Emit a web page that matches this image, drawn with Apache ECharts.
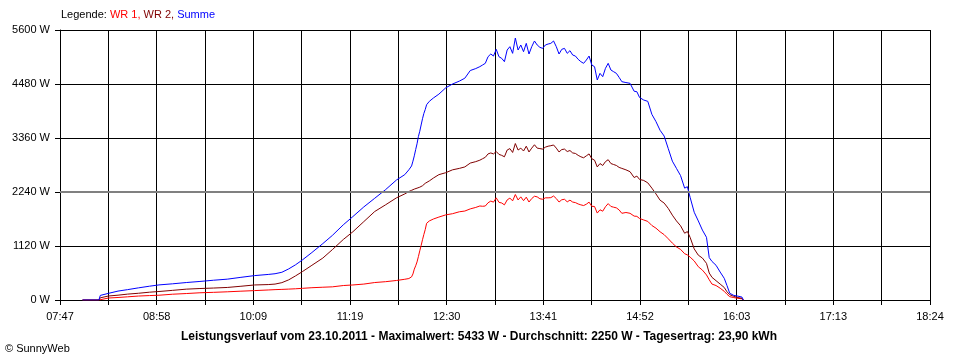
<!DOCTYPE html>
<html>
<head>
<meta charset="utf-8">
<script src="https://cdn.jsdelivr.net/npm/echarts@6/dist/echarts.min.js"></script>
<style>
html,body{margin:0;padding:0;background:#fff;}
#chart{width:960px;height:360px;}
</style>
</head>
<body>
<div id="chart"></div>
<script>
// ---- data ----
var times = ['08:04','08:16','08:17','08:23','08:30','08:37','08:45','08:53','09:00',
'09:10','09:20','09:30','09:40','09:50','10:00','10:10','10:20','10:25','10:30',
'10:35','10:40','10:45','10:52','11:00','11:07','11:15','11:22','11:30','11:38',
'11:46','11:54','12:00','12:03','12:05','12:06','12:07','12:08','12:09','12:10',
'12:11','12:12','12:13','12:14','12:15','12:16','12:18','12:21','12:25','12:30',
'12:35','12:40','12:44','12:48','12:52','12:55',
'12:57','12:59','13:01','13:03','13:05','13:07','13:09','13:11','13:13','13:15',
'13:17','13:19','13:21','13:23','13:25','13:27','13:29','13:31','13:33','13:35',
'13:37','13:39','13:41','13:43','13:45','13:47','13:49','13:51','13:53','13:55',
'13:57','13:59','14:01','14:03','14:05','14:07','14:09','14:11','14:13','14:15',
'14:17','14:19','14:21','14:23','14:25','14:27','14:29','14:31','14:33','14:35',
'14:37','14:39',
'14:42','14:45','14:48','14:50','14:52','14:55','14:58','15:01','15:04','15:07',
'15:10','15:13','15:16','15:19','15:22','15:25','15:27','15:29','15:32','15:35',
'15:38','15:41','15:43','15:45','15:48','15:51','15:54','15:56','15:58','16:01',
'16:04','16:07','16:08'];

var summe = [0,0,95,138,185,215,252,286,313,
336,362,385,410,432,470,506,530,545,575,
645,730,830,985,1170,1340,1560,1730,1930,2110,
2290,2490,2600,2700,2780,2880,2990,3120,3240,3390,
3500,3630,3760,3870,3950,4050,4120,4190,4270,4400,
4480,4540,4600,4760,4800,4840,
4874,4909,5046,5102,5060,5199,5046,5012,4943,5185,
5254,5116,5433,5185,5289,5150,5323,5102,5254,5372,
5289,5240,5219,5289,5309,5323,5372,5254,5102,5199,
5219,5116,5171,5081,5060,4992,4943,4909,4977,5060,
4874,4839,4563,4701,4632,4805,4909,4770,4735,4701,
4618,4528,
4510,4494,4330,4320,4200,4148,4120,3850,3700,3520,
3400,3140,2880,2730,2580,2320,2350,2130,1820,1640,
1450,1300,880,800,720,580,450,300,140,95,
80,60,0];

var wr2 = [0,0,45,83,100,122,140,162,176,
200,225,238,248,260,285,312,320,330,360,
418,500,588,720,870,1045,1255,1415,1625,1835,
1975,2120,2200,2250,2275,2290,2300,2310,2320,2330,
2340,2355,2370,2385,2420,2440,2470,2530,2600,2640,
2700,2730,2760,2840,2870,2900,
2930,2960,3030,3050,3030,3080,3020,3000,2970,3110,
3140,3060,3245,3110,3150,3090,3190,3070,3150,3220,
3150,3140,3130,3170,3190,3200,3215,3150,3070,3120,
3130,3080,3100,3050,3040,3000,2970,2950,2990,3030,
2930,2900,2760,2830,2790,2870,2910,2830,2810,2790,
2750,2730,
2700,2661,2540,2570,2500,2480,2430,2320,2200,2070,
2010,1900,1760,1640,1540,1385,1420,1300,1060,930,
870,760,560,470,400,330,260,170,110,75,
50,35,0];

var wr1 = [0,0,25,41,52,66,82,92,99,
120,134,150,159,170,183,195,208,215,220,
226,233,242,255,265,273,300,312,330,362,
380,405,430,445,480,540,640,710,790,900,
1020,1130,1250,1360,1460,1590,1640,1680,1720,1765,
1790,1830,1845,1890,1920,1950,
1944,1949,2016,2052,2030,2119,2026,2012,1973,2075,
2114,2056,2188,2075,2139,2060,2133,2032,2104,2152,
2139,2100,2089,2119,2119,2123,2157,2104,2032,2079,
2089,2036,2071,2031,2020,1992,1973,1959,1987,2030,
1944,1939,1803,1871,1842,1935,1999,1940,1925,1911,
1868,1798,
1815,1798,1740,1735,1690,1660,1630,1545,1490,1415,
1355,1270,1180,1100,1050,960,935,890,810,690,
620,520,420,330,300,245,180,120,69,50,
35,25,0];

var tickLabels = ['07:47','08:58','10:09','11:19','12:30','13:41','14:52','16:03','17:13','18:24'];
var yTicks = [0,1120,2240,3360,4480,5600];
var average = 2250;
var titleText = 'Leistungsverlauf vom 23.10.2011 - Maximalwert: 5433 W - Durchschnitt: 2250 W - Tagesertrag: 23,90 kWh';

// ---- axis setup ----
var startMin = 7*60 + 47.5;   // axis origin in minutes
var step = 35.4;              // minutes per grid column
var nSteps = 18;

function toOffset(t){
  var p = t.split(':');
  return (+p[0])*60 + (+p[1]) - startMin;
}
function pairs(vals){
  return times.map(function(t,i){ return [toOffset(t), vals[i]]; });
}

var FONT = "'Liberation Sans', Arial, sans-serif";
var chart = echarts.init(document.getElementById('chart'), null, {renderer:'canvas'});
chart.setOption({
  animation:false,
  backgroundColor:'#ffffff',
  grid:{left:60,right:30,top:30,bottom:60,containLabel:false},
  xAxis:{
    type:'value', min:0, max:step*nSteps, interval:step,
    axisLine:{show:true,lineStyle:{color:'#000',width:1}},
    axisTick:{show:true,length:5,lineStyle:{color:'#000',width:1}},
    splitLine:{show:true,lineStyle:{color:'#000',width:1}},
    axisLabel:{
      show:true,color:'#000',fontFamily:FONT,fontSize:11,margin:11,
      showMinLabel:true,showMaxLabel:true,
      formatter:function(v){
        var i = Math.round(v/step);
        return (i%2===0) ? (tickLabels[i/2]||'') : '';
      }
    }
  },
  yAxis:{
    type:'value', min:yTicks[0], max:yTicks[yTicks.length-1], interval:yTicks[1]-yTicks[0],
    axisLine:{show:true,lineStyle:{color:'#000',width:1}},
    axisTick:{show:true,length:5,lineStyle:{color:'#000',width:1}},
    splitLine:{show:true,lineStyle:{color:'#000',width:1}},
    axisLabel:{color:'#000',fontFamily:FONT,fontSize:11,margin:10,
      formatter:function(v){ return String(v) + ' W'; }}
  },
  series:[
    {
      name:'WR 1', type:'line', data:pairs(wr1), symbol:'none', showSymbol:false,
      lineStyle:{color:'#ff0000',width:1}, itemStyle:{color:'#ff0000'},
      markLine:{silent:true,symbol:['none','none'],label:{show:false},
        lineStyle:{color:'#808080',width:2,type:'solid'},
        data:[{yAxis:average}]}
    },
    {
      name:'WR 2', type:'line', data:pairs(wr2), symbol:'none', showSymbol:false,
      lineStyle:{color:'#800000',width:1}, itemStyle:{color:'#800000'}
    },
    {
      name:'Summe', type:'line', data:pairs(summe), symbol:'none', showSymbol:false,
      lineStyle:{color:'#0000ff',width:1}, itemStyle:{color:'#0000ff'}
    }
  ],
  graphic:[
    {type:'text',left:61,top:9,style:{
      text:'{k|Legende: }{a|WR 1, }{b|WR 2, }{c|Summe}',
      rich:{
        k:{fill:'#000',fontFamily:FONT,fontSize:11},
        a:{fill:'#ff0000',fontFamily:FONT,fontSize:11},
        b:{fill:'#800000',fontFamily:FONT,fontSize:11},
        c:{fill:'#0000ff',fontFamily:FONT,fontSize:11}
      }
    }},
    {type:'text',x:479,y:337,style:{
      text:titleText,fill:'#000',fontFamily:FONT,fontSize:12,fontWeight:'bold',
      align:'center',verticalAlign:'middle'
    }},
    {type:'text',x:5,y:349,style:{
      text:'© SunnyWeb',fill:'#000',fontFamily:FONT,fontSize:11,
      align:'left',verticalAlign:'middle'
    }}
  ]
});
</script>
</body>
</html>
